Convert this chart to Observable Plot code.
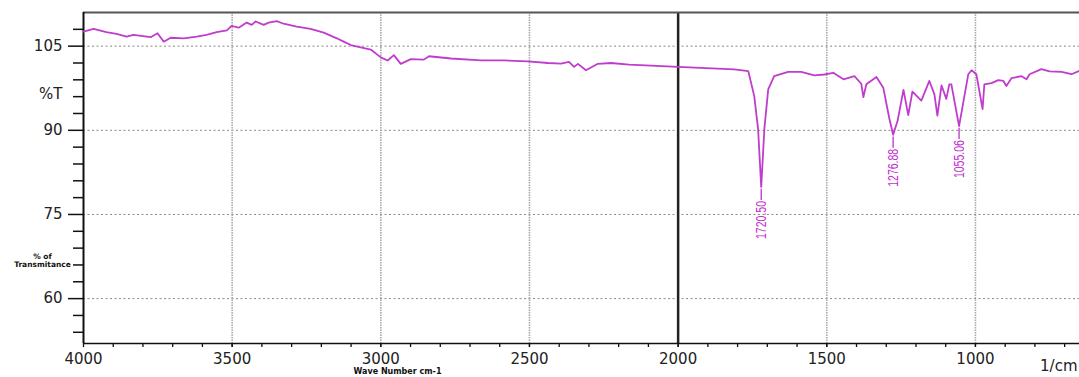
<!DOCTYPE html>
<html><head><meta charset="utf-8">
<script src="https://cdn.jsdelivr.net/npm/d3@7"></script>
<script src="https://cdn.jsdelivr.net/npm/@observablehq/plot@0.6"></script>
<style>body{margin:0;background:#fff;overflow:hidden}</style>
</head><body><div id="chart"></div>
<script>
// Wavenumber (cm-1) and % transmittance
const wavenumbers = [4000,3966,3923,3889,3855,3832,3800,3774,3751,3730,3707,3663,3619,3586,3552,3518,3502,3478,3451,3434,3421,3394,3377,3350,3327,3283,3236,3192,3148,3125,3101,3034,3000,2977,2956,2933,2899,2855,2838,2764,2663,2586,2505,2438,2394,2367,2350,2337,2310,2270,2226,2165,2000,1811,1764,1744,1731,1720.5,1710,1697,1677,1630,1586,1542,1508,1478,1444,1407,1384,1377,1367,1333,1310,1290,1276.88,1262,1242,1226,1212,1182,1155,1138,1128,1114,1098,1088,1081,1055.06,1024,1013,997,976,970,946,923,906,896,879,845,828,818,778,751,710,677,650];
const transmittance = [107.6,108.1,107.5,107.2,106.7,107.0,106.8,106.6,107.3,105.8,106.5,106.4,106.7,107.0,107.5,107.8,108.6,108.3,109.2,108.8,109.4,108.8,109.2,109.45,109.0,108.5,108.1,107.4,106.4,105.8,105.2,104.4,103.0,102.45,103.4,101.85,102.7,102.6,103.2,102.8,102.45,102.45,102.3,102.0,101.9,102.2,101.3,101.85,100.7,101.85,102.0,101.7,101.3,100.85,100.55,96.1,90.2,79.9,90.2,97.3,99.65,100.4,100.4,99.8,99.95,100.25,99.1,99.65,98.3,95.9,98.2,99.5,97.6,92.2,89.2,91.65,97.2,92.7,96.9,95.3,98.8,96.4,92.6,98.0,95.6,98.2,98.2,90.75,100.0,100.7,100.0,93.8,98.2,98.4,98.95,98.8,97.9,99.3,99.65,99.1,100.0,100.9,100.5,100.4,100.0,100.6];

// Peak annotations
const peakLabels = ["1720.50","1276.88","1055.06"];
const peakWavenumbers = [1720.5,1276.88,1055.06];
const peakTransmittance = [79.9,89.2,90.75];

// Axis ticks
const xTickLabels = [4000,3500,3000,2500,2000,1500,1000];
const xMinorTicks = d3.range(700,4000,100);
const yTickLabels = [105,90,75,60];
const yMinorTicks = [54,57,63,66,69,72,78,81,84,87,93,96,99,102,108];
const xGridLines = [3500,3000,2500,1500,1000];

const spectrum = wavenumbers.map((w,i)=>({w, t: transmittance[i]}));
const peaks = peakLabels.map((label,i)=>({label, w: peakWavenumbers[i], t: peakTransmittance[i]}));

const font = "DejaVu Sans, sans-serif";
const plot = Plot.plot({
  width: 1079, height: 377,
  marginLeft: 83, marginRight: 0, marginTop: 12, marginBottom: 34,
  style: {fontFamily: font, background: "#fff", overflow: "visible"},
  x: {domain: [4000, 650]},
  y: {domain: [52, 111]},
  marks: [
    Plot.gridY(yTickLabels, {stroke: "#888", strokeOpacity: 1, strokeDasharray: "2,2.5"}),
    Plot.gridX(xGridLines, {stroke: "#aaa", strokeOpacity: 1, strokeWidth: 1.6, strokeDasharray: "1.5,1"}),
    Plot.ruleX([2000], {stroke: "#222", strokeWidth: 2.5}),
    Plot.ruleY([111], {stroke: "#555", strokeWidth: 2.2}),
    Plot.ruleX([4000], {stroke: "#111", strokeWidth: 2}),
    Plot.ruleY([52], {stroke: "#111", strokeWidth: 1.6}),
    Plot.line(spectrum, {x: "w", y: "t", stroke: "#c03ccc", strokeWidth: 1.8}),
    Plot.ruleX(peaks, {x: "w", y1: d => d.t - 0.4, y2: d => d.t - 2.4, stroke: "#c030cc", strokeWidth: 1.3}),
    Plot.text(peaks, {x: "w", y: "t", text: "label", rotate: -90, textAnchor: "end", dy: 14,
      fill: "#c030cc", fontSize: 14, fontFamily: "Liberation Sans, sans-serif"}),
    Plot.axisY(yTickLabels, {tickSize: 15, tickPadding: 6, fontSize: 15, stroke: "#111", strokeWidth: 1.5, fill: "#222", label: null}),
    Plot.axisY(yMinorTicks, {tickSize: 10, text: null, stroke: "#111", strokeWidth: 1.5, label: null}),
    Plot.axisX(xTickLabels, {tickSize: 4, tickPadding: 6, fontSize: 15, stroke: "#111", strokeWidth: 1.3, fill: "#222", label: null, tickFormat: d => String(d)}),
    Plot.axisX(xMinorTicks, {tickSize: 4, text: null, stroke: "#111", strokeWidth: 1.3, label: null}),
    Plot.text(["%T"], {frameAnchor: "top-left", dx: -21, dy: 76, textAnchor: "end", fontSize: 15, fill: "#222"}),
    Plot.text(["% of\nTransmitance"], {frameAnchor: "top-left", dx: -41, dy: 241, textAnchor: "middle", fontSize: 7.5, fontWeight: "bold", lineHeight: 1.05, fill: "#111"}),
    Plot.text(["Wave Number cm-1"], {frameAnchor: "bottom-left", dx: 314, dy: 30, textAnchor: "middle", fontSize: 8, fontWeight: "bold", fill: "#111"}),
    Plot.text(["1/cm"], {frameAnchor: "bottom-right", dx: -2, dy: 27, textAnchor: "end", fontSize: 15, fill: "#222"})
  ]
});
// condense the rotated peak labels along their reading direction
d3.select(plot).selectAll("text").each(function() {
  if (peakLabels.includes(this.textContent.trim())) {
    this.setAttribute("textLength", "38");
    this.setAttribute("lengthAdjust", "spacingAndGlyphs");
  }
});
document.getElementById("chart").append(plot);
</script>
</body></html>
